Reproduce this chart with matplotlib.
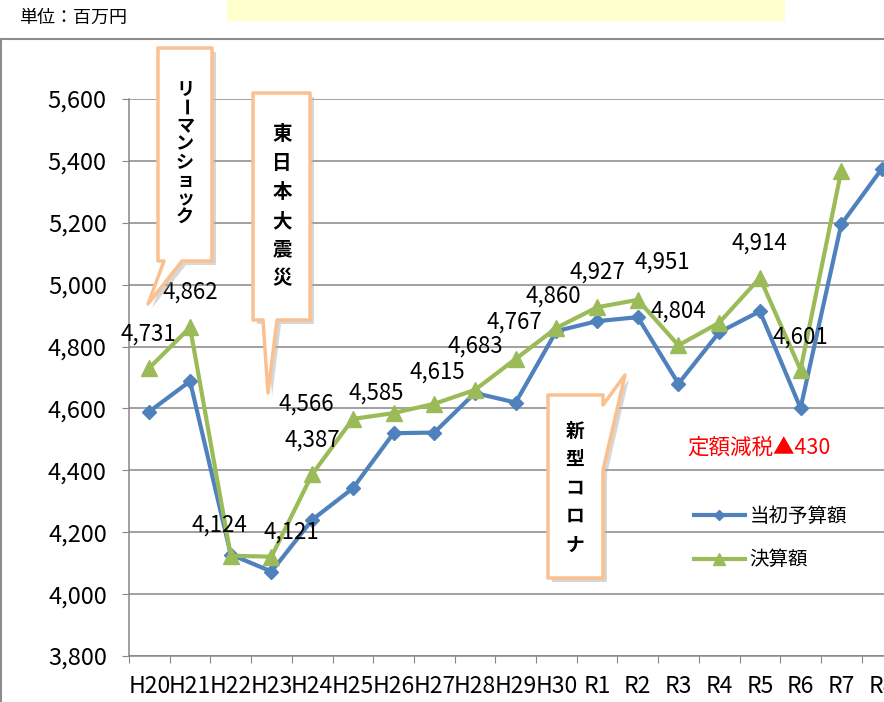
import numpy as np
import matplotlib.pyplot as plt
from matplotlib.patches import Polygon, Rectangle
from matplotlib.lines import Line2D
from matplotlib.ticker import FuncFormatter, FixedLocator

plt.rcParams['font.family'] = ['Noto Sans CJK JP', 'DejaVu Sans']

# data
years = ['H20', 'H21', 'H22', 'H23', 'H24', 'H25', 'H26', 'H27', 'H28', 'H29', 'H30',
         'R1', 'R2', 'R3', 'R4', 'R5', 'R6', 'R7', 'R8']
budget = [4590, 4688, 4128, 4073, 4240, 4342, 4520, 4522, 4650, 4619, 4850,
          4882, 4895, 4680, 4846, 4914, 4601, 5195, 5375]
settled = [4731, 4862, 4124, 4121, 4387, 4566, 4585, 4615, 4660, 4760, 4860,
           4927, 4951, 4804, 4877, 5022, 4725, 5368]

label_text = ['4,731', '4,862', '4,124', '4,121', '4,387', '4,566', '4,585', '4,615',
              '4,683', '4,767', '4,860', '4,927', '4,951', '4,804', '4,914', '4,601']
label_x = [-0.03, 1.0, 1.71, 3.48, 4.0, 3.85, 5.57, 7.07, 8.0, 8.98, 9.92, 11.0, 12.6, 13.01, 14.98, 15.99]
label_y = [4839, 4975, 4223, 4201, 4499, 4615, 4651, 4719, 4800, 4878, 4962, 5040, 5072, 4916, 5133, 4829]

W, H = 884, 702
fig = plt.figure(figsize=(8.84, 7.02), dpi=100)


def fx(px):
    return px / W


def fy(py):
    return 1 - py / H


gray = '#868686'
ax = fig.add_axes([fx(129), fy(656), 773.3 / W, (656 - 99) / H])
x = np.arange(len(years))
ax.plot(x, budget, color='#4F81BD', lw=3, marker='D', ms=7.5, label='当初予算額', zorder=3)
ax.plot(x[:len(settled)], settled, color='#9BBB59', lw=3, marker='^', ms=12, label='決算額', zorder=4)

for t, lx, ly in zip(label_text, label_x, label_y):
    ax.text(lx, ly, t, ha='center', va='center', fontsize=16, color='black', zorder=5)

ax.set_xlim(-0.5, len(years) - 0.5)
ax.set_ylim(3800, 5600)
ax.set_yticks(np.arange(3800, 5601, 200))
ax.yaxis.set_major_formatter(FuncFormatter(lambda v, p: f'{int(v):,}'))
ax.xaxis.set_major_locator(FixedLocator(np.arange(-0.5, len(years), 1)))
ax.xaxis.set_minor_locator(FixedLocator(x))
ax.set_xticklabels([], minor=False)
ax.set_xticklabels(years, minor=True)
ax.tick_params(axis='x', which='major', length=5, color=gray, direction='out')
ax.tick_params(axis='x', which='minor', length=0, pad=14, labelsize=16.5)
ax.tick_params(axis='y', length=5, color=gray, pad=11, labelsize=17)
ax.grid(axis='y', color=gray, lw=1.1)
ax.set_axisbelow(True)
for s in ['top', 'right']:
    ax.spines[s].set_visible(False)
for s in ['left', 'bottom']:
    ax.spines[s].set_color(gray)
    ax.spines[s].set_linewidth(1.1)

ax.legend(loc='upper left', bbox_to_anchor=(fx(694), fy(506)), bbox_transform=fig.transFigure,
          frameon=False, fontsize=14, handlelength=2.6, handletextpad=0.25, borderpad=0,
          borderaxespad=0, markerscale=0.7, labelspacing=1.15)

# chart frame and header box
fig.add_artist(Line2D([0, 1], [fy(39), fy(39)], color='#8C8C8C', lw=1.5, transform=fig.transFigure))
fig.add_artist(Line2D([fx(1), fx(1)], [fy(39), 0], color='#8C8C8C', lw=1.5, transform=fig.transFigure))
fig.add_artist(Rectangle((fx(227), fy(21)), fx(785) - fx(227), 21 / H, transform=fig.transFigure,
                         facecolor='#FFFFCC', edgecolor='none'))
fig.text(fx(19), fy(18), '単位：百万円', ha='left', va='center', fontsize=13)
fig.text(fx(687), fy(448), '定額減税▲430', ha='left', va='center', fontsize=15.5, color='#FF0000')


def callout(verts, chars, cx, cy0, step, size):
    shadow = [(fx(a + 4), fy(b + 4)) for a, b in verts]
    pts = [(fx(a), fy(b)) for a, b in verts]
    fig.add_artist(Polygon(shadow, closed=True, transform=fig.transFigure, facecolor='#B0B0B0',
                           edgecolor='none', alpha=0.5, zorder=5))
    fig.add_artist(Polygon(pts, closed=True, transform=fig.transFigure, facecolor='white',
                           edgecolor='#FAC090', lw=2.5, joinstyle='round', zorder=6))
    for i, ch in enumerate(chars):
        fig.text(fx(cx), fy(cy0 + i * step), ch, ha='center', va='center', fontsize=size,
                 fontweight='bold', rotation=-90 if ch == 'ー' else 0, zorder=7)


callout([(158, 48), (212, 48), (212, 261), (182, 261), (148, 304), (164, 261), (158, 261)],
        'リーマンショック', 185, 89, 18.3, 13)
callout([(253, 93), (310, 93), (310, 320), (277, 320), (268, 393), (263, 320), (253, 320)],
        '東日本大震災', 282, 135, 28.8, 14)
callout([(548, 395), (603, 395), (603, 405), (625, 375), (603, 470), (603, 578), (548, 578)],
        '新型コロナ', 575, 431, 28.5, 13.5)

fig.savefig('out.png', dpi=100)
